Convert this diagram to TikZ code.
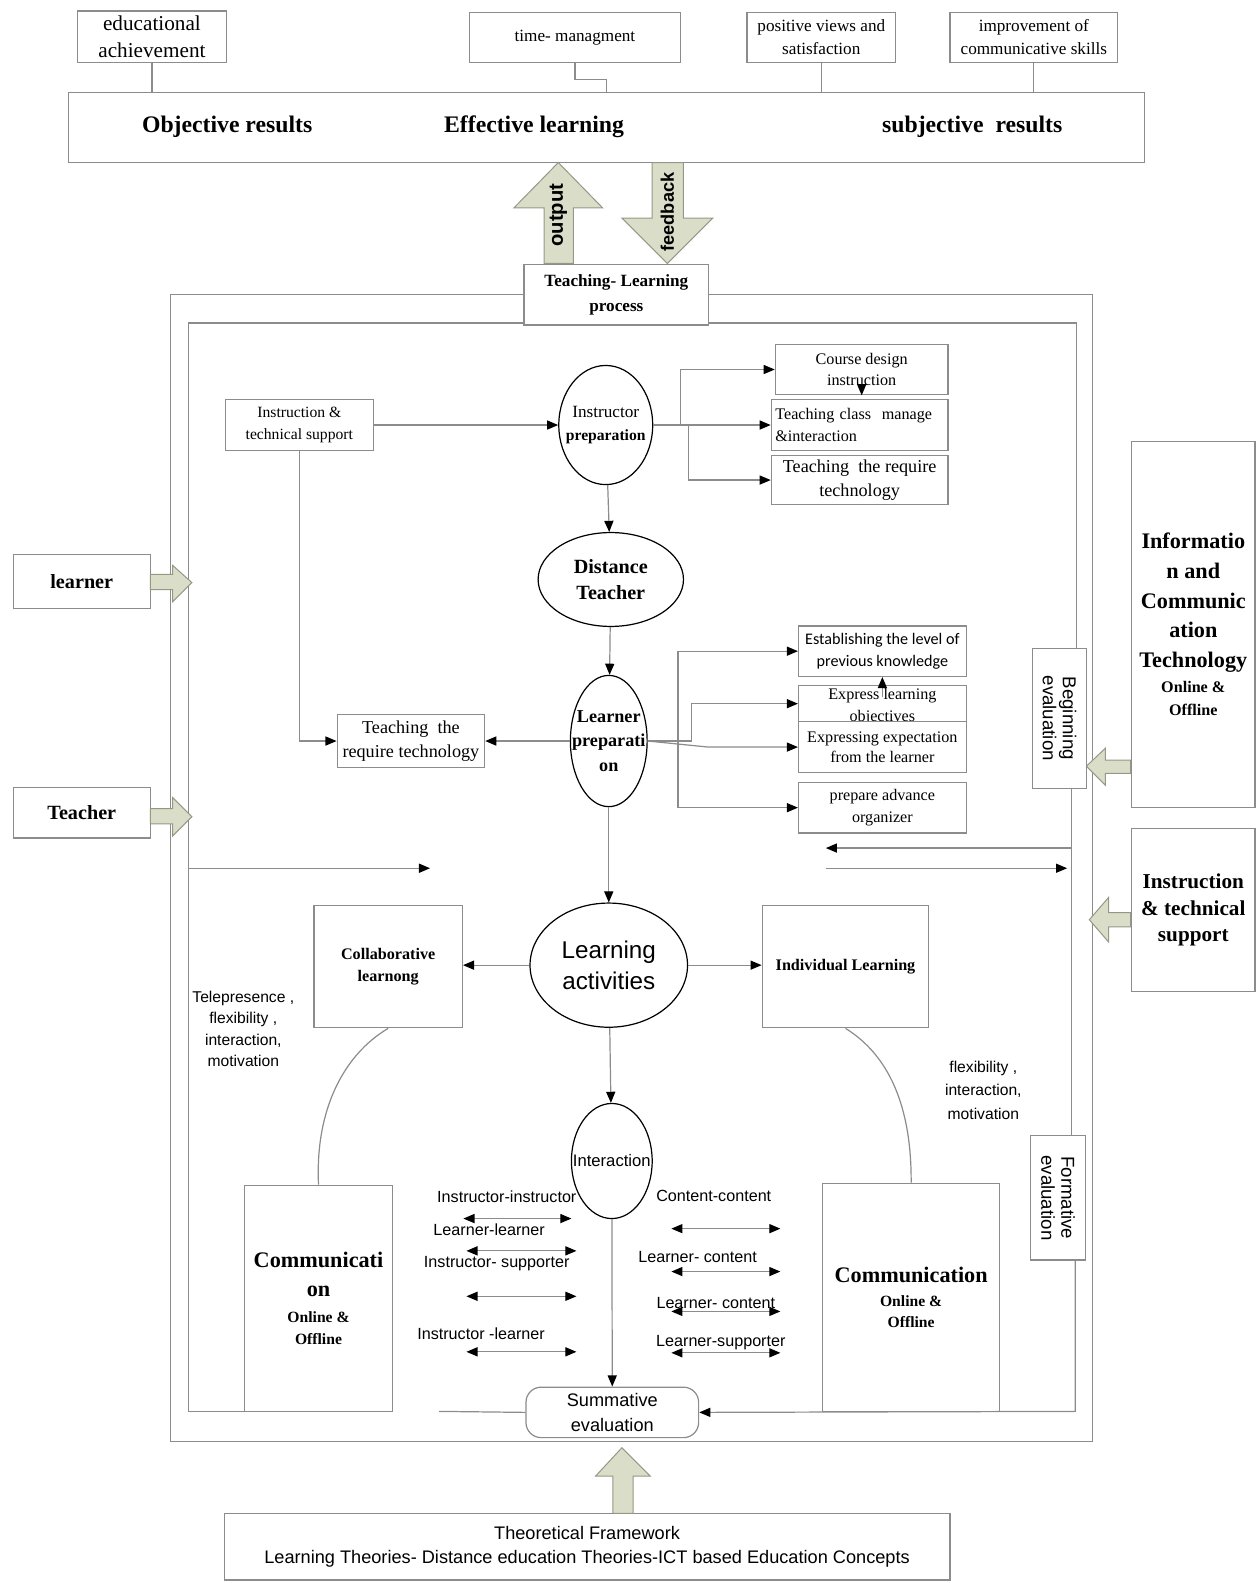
\documentclass[tikz,border=0pt]{standalone}
\usepackage{fontspec}
\setmainfont{Liberation Serif}
\setsansfont{Liberation Sans}
\newfontfamily\calib{Carlito}
\usetikzlibrary{shapes.geometric,arrows.meta}
\definecolor{framegray}{RGB}{140,140,140}
\definecolor{arrowfill}{RGB}{218,221,200}
\definecolor{arrowedge}{RGB}{150,152,135}
\newcommand{\fsz}[2]{\fontsize{#1}{#2}\selectfont}

\begin{document}
\begin{tikzpicture}[x=1pt,y=-1pt,>={Triangle[length=11pt,width=9pt,color=black]},line width=1.2pt,
    box/.style={draw=framegray,fill=white,rectangle,inner sep=1pt,align=center},
    oval/.style={draw=black,ellipse,inner sep=0pt},
    conn/.style={draw=framegray},
    blockarrow/.style={draw=arrowedge,fill=arrowfill,line width=1pt},
    txt/.style={inner sep=0pt,align=center}]
        \useasboundingbox (0,0) rectangle (1244,1568);

        \draw[conn] (169,292) rectangle (1082,1428);
        \draw[conn] (1066,642) -- (1066,320) -- (187,320) -- (187,1398) -- (388,1398);
        \draw[conn] (1061,781) -- (1061,1125);

        \node (edu) [box,minimum width=147pt,minimum height=51pt,font=\fsz{21}{27}] at (150.5,36.5) {educational\\achievement};
        \node (time) [box,minimum width=209pt,minimum height=50pt,font=\fsz{17}{23}] at (569.5,37) {time- managment};
        \node (pos) [box,minimum width=147pt,minimum height=50pt,font=\fsz{17}{23}] at (813.5,37) {positive views and\\satisfaction};
        \node (imp) [box,minimum width=166pt,minimum height=50pt,font=\fsz{17}{23}] at (1024,37) {improvement of\\communicative skills};
        \node (res) [box,minimum width=1066pt,minimum height=69pt] at (601,126.5) {};
        \node (obj) [txt,font=\bfseries\fsz{23.5}{28}] at (225,126) {Objective results};
        \node (eff) [txt,font=\bfseries\fsz{23.5}{28}] at (529,126) {Effective learning};
        \node (subj) [txt,font=\bfseries\fsz{23.5}{28}] at (963,126) {subjective\ \ results};
        \draw[conn] (edu.south) -- (edu.south |- res.north);
        \draw[conn] (time.south) -- ++(0,16) -- ++(31,0) -- ++(0,14);
        \draw[conn] (pos.south) -- (pos.south |- res.north);
        \draw[conn] (imp.south) -- (imp.south |- res.north);

        \draw[blockarrow] (553,161) -- (597,206) -- (568,206) -- (568,261) -- (539,261) -- (539,206) -- (509,206) -- cycle;
        \node (out) [txt,rotate=90,font=\sffamily\bfseries\fsz{20}{24}] at (553,213) {output};
        \draw[blockarrow] (646,161) -- (677,161) -- (677,216) -- (706,216) -- (661,261) -- (616,216) -- (646,216) -- cycle;
        \node (fb) [txt,rotate=90,font=\sffamily\bfseries\fsz{18}{22}] at (661,210) {feedback};

        \node (tl) [box,minimum width=183pt,minimum height=60pt,font=\bfseries\fsz{17}{24}] at (610.5,292) {Teaching- Learning\\process};

        \node (lrn) [box,minimum width=136pt,minimum height=54pt,font=\bfseries\fsz{20}{24}] at (81,576) {learner};
        \node (tch) [box,minimum width=136pt,minimum height=50pt,font=\bfseries\fsz{20}{24}] at (81,805) {Teacher};
        \draw[blockarrow] (149,569) -- (171,569) -- (171,560) -- (190,577) -- (171,596) -- (171,584) -- (149,584) -- cycle;
        \draw[blockarrow] (149,801) -- (171,801) -- (171,790) -- (190,809) -- (171,828) -- (171,816) -- (149,816) -- cycle;

        \node (ict) [box,minimum width=122pt,minimum height=363pt,font=\bfseries\fsz{22}{29.3}] at (1182,618.5) {Informatio\\n and\\Communic\\ation\\Technology\\[-4pt]{\fsz{16}{21}Online \&}\\[-7pt]{\fsz{16}{21}Offline}};
        \node (its) [box,minimum width=122pt,minimum height=161pt,font=\bfseries\fsz{21}{26.5}] at (1182,901.5) {Instruction\\\& technical\\support};
        \draw[blockarrow] (1076,759) -- (1095,741) -- (1095,753) -- (1120,753) -- (1120,766) -- (1095,766) -- (1095,778) -- cycle;
        \draw[blockarrow] (1079,911) -- (1098,889) -- (1098,904) -- (1120,904) -- (1120,918) -- (1098,918) -- (1098,933) -- cycle;

        \node (beg) [box,rotate=-90,minimum width=139pt,minimum height=53pt,font=\sffamily\fsz{18.5}{20}] at (1049.5,711.5) {Beginning\\evaluation};
        \node (form) [box,rotate=-90,minimum width=123pt,minimum height=54pt,font=\sffamily\fsz{18.5}{20}] at (1048,1186.5) {Formative\\evaluation};

        \node (ins) [box,minimum width=147pt,minimum height=50pt,font=\fsz{15.5}{21}] at (296.5,421) {Instruction \&\\technical support};
        \node (ip) [oval,minimum width=93pt,minimum height=118pt] at (600,421) {};
        \node (iptxt) [txt,font=\fsz{17}{22}] at (ip) {Instructor\\\textbf{\fsz{15.5}{22}preparation}};
        \node (cd) [box,minimum width=171pt,minimum height=50pt,font=\fsz{16}{21}] at (853.5,366) {Course design\\instruction};
        \node (tcm) [box,minimum width=175pt,minimum height=50pt,font=\fsz{16}{21},align=left,text width=167pt] at (851.5,421) {Teaching class\ \ manage\\\&interaction};
        \node (trt) [box,minimum width=175pt,minimum height=49pt,font=\fsz{18}{24}] at (851.5,475.5) {Teaching\ \ the require\\technology};
        \node (dt) [oval,minimum width=144pt,minimum height=93pt] at (605,574) {};
        \node (dttxt) [txt,font=\bfseries\fsz{20}{26}] at (dt) {Distance\\Teacher};
        \node (lp) [oval,minimum width=76pt,minimum height=130pt] at (603,734) {};
        \node (lptxt) [txt,font=\bfseries\fsz{18}{24.5}] at (lp) {Learner\\preparati\\on};
        \node (trl) [box,minimum width=146pt,minimum height=52pt,font=\fsz{18}{24}] at (407,734) {Teaching\ \ the\\require technology};
        \node (est) [box,minimum width=166pt,minimum height=50pt,font=\calib\fsz{16}{22}] at (874,645) {Establishing the level of\\previous knowledge};
        \node (elo) [box,minimum width=166pt,minimum height=36pt] at (874,697) {};
        \node (elotxt) [txt,font=\fsz{16}{22}] at (874,700) {Express learning\\objectives};
        \node (eex) [box,minimum width=166pt,minimum height=50pt,font=\fsz{16}{20}] at (874,740) {Expressing expectation\\from the learner};
        \node (pao) [box,minimum width=166pt,minimum height=50pt,font=\fsz{16}{21}] at (874,800) {prepare advance\\organizer};

        \node (la) [oval,minimum width=156pt,minimum height=123pt] at (603,956) {};
        \node (latxt) [txt,font=\sffamily\fsz{24}{31}] at (la) {Learning\\activities};
        \node (col) [box,minimum width=147pt,minimum height=121pt,font=\bfseries\fsz{16}{22}] at (384.5,957.5) {Collaborative\\learnong};
        \node (ind) [box,minimum width=165pt,minimum height=121pt,font=\bfseries\fsz{16}{22}] at (837.5,957.5) {Individual Learning};
        \node (tele) [txt,font=\sffamily\fsz{15.5}{21.3}] at (241,1019) {Telepresence ,\\flexibility ,\\interaction,\\motivation};
        \node (flex) [txt,font=\sffamily\fsz{15.5}{23}] at (974,1080) {flexibility ,\\interaction,\\motivation};
        \node (inter) [oval,minimum width=80pt,minimum height=114pt] at (606,1150) {};
        \node (intertxt) [txt,font=\sffamily\fsz{16.5}{20}] at (inter) {Interaction};

        \node (coml) [box,minimum width=147pt,minimum height=224pt,font=\bfseries\fsz{22}{29}] at (315.5,1286) {Communicati\\on\\[-3pt]{\fsz{15.5}{21}Online \&}\\[-7pt]{\fsz{15.5}{21}Offline}};
        \node (comr) [box,minimum width=175pt,minimum height=226pt,font=\bfseries\fsz{22}{29}] at (902.5,1285) {Communication\\[-5pt]{\fsz{15.5}{21}Online \&}\\[-8pt]{\fsz{15.5}{21}Offline}};

        \node (ii) [txt,font=\sffamily\fsz{16}{20}] at (502,1185) {Instructor-instructor};
        \node (ll) [txt,font=\sffamily\fsz{16}{20}] at (484.5,1218) {Learner-learner};
        \node (is) [txt,font=\sffamily\fsz{16}{20}] at (492,1252) {Instructor- supporter};
        \node (il) [txt,font=\sffamily\fsz{16}{20}] at (476.5,1321) {Instructor -learner};
        \node (cc) [txt,font=\sffamily\fsz{16}{20}] at (707,1184.5) {Content-content};
        \node (lc) [txt,font=\sffamily\fsz{16}{20}] at (691,1244.6) {Learner- content};
        \node (lc2) [txt,font=\sffamily\fsz{16}{20}] at (709,1290.6) {Learner- content};
        \node (lsup) [txt,font=\sffamily\fsz{16}{20}] at (714,1330) {Learner-supporter};
        \foreach \n/\xa/\xb/\y in {a/459/566/1207, b/462/571/1239, c/462/571/1284, d/462/571/1339, e/665/773/1217, f/665/773/1259.5, g/665/773/1299, h/665/773/1340} {
            \coordinate (\n1) at (\xa,\y);
            \coordinate (\n2) at (\xb,\y);
            \draw[conn,<->] (\n1) -- (\n2);
        }

        \node (se) [box,rounded corners=15pt,minimum width=171pt,minimum height=50pt,font=\sffamily\fsz{18}{24}] at (606.5,1399) {Summative\\evaluation};
        \node (tf) [box,minimum width=719pt,minimum height=66pt,font=\sffamily\fsz{18}{24}] at (581.5,1532) {Theoretical Framework\\Learning Theories- Distance education Theories-ICT based Education Concepts};
        \draw[blockarrow] (616,1434) -- (644,1462) -- (627,1462) -- (627,1499) -- (607,1499) -- (607,1462) -- (590,1462) -- cycle;

        \draw[conn,->] (ins.east) -- (ins.east -| ip.west);
        \draw[conn,->] (ip.east) -- (tcm.west);
        \draw[conn,->] ([xshift=27pt]ip.east) |- (cd.west);
        \draw[conn,->] ([xshift=35pt]ip.east) |- (trt.west);
        \draw[conn,->] ([yshift=11pt]cd.south) -- (cd.south);
        \draw[conn,->] (ip) -- (dt);
        \draw[conn,->] (dt) -- (lp);
        \draw[conn,->] (lp) -- (la);
        \draw[conn,->] (la) -- (inter);
        \draw[conn,->] (inter) -- (se);
        \draw[conn,->] (lp.west) -- (trl.east);
        \draw[conn,->] (ins.south) |- (trl.west);
        \draw[conn] (lp.east) -- ([xshift=30pt]lp.east);
        \draw[conn,->] ([xshift=30pt]lp.east) |- (est.west);
        \draw[conn,->] ([xshift=30pt]lp.east) |- (pao.west);
        \draw[conn,->] (lp.east) -- ([xshift=43pt]lp.east) |- (elo.west);
        \draw[conn,->] (lp.east) -- ([xshift=60pt,yshift=-6pt]lp.east) -- (eex.west);
        \draw[conn,->] ([yshift=-20pt]est.south) -- (est.south);
        \draw[conn,->] (la.west) -- (la.west -| col.east);
        \draw[conn,->] (la.east) -- (la.east -| ind.west);
        \draw[conn] (col.south) .. controls (340,1045) and (312,1100) .. (coml.north);
        \draw[conn] (ind.south) .. controls (880,1045) and (903,1095) .. (comr.north);

        \coordinate (fl1) at (187,860);
        \coordinate (fl2) at (426,860);
        \draw[conn,->] (fl1) -- (fl2);
        \coordinate (fr1) at (1061,840);
        \coordinate (fr2) at (818,840);
        \draw[conn,->] (fr1) -- (fr2);
        \coordinate (fr3) at (818,860);
        \coordinate (fr4) at (1057,860);
        \draw[conn,->] (fr3) -- (fr4);
        \coordinate (fb1) at (435,1398);
        \draw[conn] (fb1) -- (se.west);
        \coordinate (fb2) at (1065,1248);
        \coordinate (fb3) at (1065,1398);
        \draw[conn,->] (fb2) -- (fb3) -- (se.east);
    \end{tikzpicture}
\end{document}
